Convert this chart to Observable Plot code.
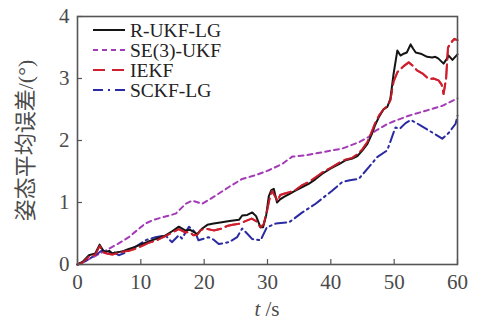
<!DOCTYPE html>
<html>
<head>
<meta charset="utf-8">
<script src="https://cdn.jsdelivr.net/npm/d3@7"></script>
<script src="https://cdn.jsdelivr.net/npm/@observablehq/plot@0.6"></script>
<style>
  body { margin: 0; background: #fff; }
  #chart { position: relative; width: 477px; height: 322px; }
</style>
</head>
<body>
<div id="chart"></div>
<script>
// ---- data ----
const seriesNames = ["R-UKF-LG", "SE(3)-UKF", "IEKF", "SCKF-LG"];
const xTicks = [0, 10, 20, 30, 40, 50, 60];
const yTicks = [0, 1, 2, 3, 4];

const rukfT = [0,0.8,1.8,2.8,3.5,4.2,5.0,5.5,6.5,7.3,8.1,9.0,10.2,11.2,12.3,13.1,13.9,15.0,16.0,17.0,17.8,18.9,19.7,20.5,21.5,22.8,24.0,25.5,26.0,26.8,27.6,28.2,28.9,29.3,29.8,30.2,30.6,31.0,31.5,32.0,32.6,33.5,34.4,35.5,36.5,37.5,38.6,40.0,41.3,42.3,43.4,44.2,45.0,45.8,46.5,47.0,47.6,48.3,48.9,49.4,49.9,50.5,51.0,51.5,52.0,52.6,53.0,53.4,54.2,55.2,56.0,56.5,57.0,57.8,58.2,58.6,59.2,60];
const rukfV = [0,0.04,0.15,0.18,0.32,0.2,0.22,0.18,0.2,0.22,0.25,0.28,0.33,0.37,0.41,0.44,0.47,0.54,0.61,0.55,0.56,0.49,0.58,0.64,0.66,0.68,0.7,0.72,0.79,0.8,0.84,0.78,0.6,0.6,0.8,1.1,1.2,1.22,1.0,1.05,1.09,1.14,1.19,1.25,1.30,1.37,1.46,1.55,1.62,1.68,1.71,1.75,1.84,1.95,2.11,2.25,2.38,2.5,2.54,2.67,3.07,3.45,3.37,3.40,3.42,3.55,3.48,3.42,3.40,3.35,3.34,3.35,3.32,3.24,3.30,3.37,3.30,3.39];

const se3T = [0,2.5,4.9,6.5,8.1,9.5,10.7,12.0,13.4,15.5,17.1,18.1,19.7,21.8,23.9,26.0,28.1,30.2,32.3,33.9,36.0,38.6,41.8,44.4,46.0,47.1,48.8,50.2,52.3,55.0,57.6,60];
const se3V = [0,0.12,0.25,0.34,0.44,0.56,0.66,0.72,0.76,0.82,0.98,1.03,0.98,1.11,1.25,1.38,1.44,1.52,1.62,1.74,1.76,1.81,1.87,1.97,2.06,2.16,2.26,2.32,2.40,2.48,2.56,2.68];

const iekfT = [0,0.8,1.8,2.8,3.5,4.2,5.0,5.5,6.5,7.3,8.1,9.0,10.2,11.2,12.3,13.1,13.9,15.0,16.0,17.0,17.8,18.3,18.9,19.4,20.0,20.7,21.5,22.8,23.6,24.5,25.7,26.5,27.5,28.2,28.9,29.4,29.9,30.3,30.7,31.2,31.6,32.0,32.6,33.6,34.4,35.5,36.5,37.5,38.6,40.0,41.3,42.3,43.4,44.2,45.0,45.8,46.5,47.0,47.6,48.3,48.9,49.4,49.9,50.5,51.5,52.3,53.0,53.6,54.5,55.5,56.2,57.0,57.5,57.8,58.2,58.5,59.0,59.5,60];
const iekfV = [0,0.03,0.13,0.16,0.3,0.19,0.17,0.16,0.19,0.21,0.22,0.25,0.3,0.35,0.38,0.42,0.46,0.52,0.57,0.52,0.52,0.47,0.48,0.55,0.58,0.57,0.55,0.58,0.62,0.64,0.66,0.70,0.74,0.7,0.6,0.65,0.85,1.05,1.19,1.1,1.02,1.12,1.14,1.17,1.2,1.28,1.33,1.4,1.48,1.56,1.64,1.69,1.72,1.78,1.86,1.98,2.15,2.28,2.40,2.5,2.55,2.65,2.95,3.1,3.2,3.26,3.2,3.13,3.08,2.99,3.0,2.97,2.9,2.75,3.0,3.5,3.58,3.64,3.62];

const sckfT = [0,1.2,2.3,3.1,3.9,4.9,5.7,6.5,7.3,8.1,9.4,10.7,12.3,13.9,14.9,16.0,16.5,17.6,18.6,19.1,20.7,21.5,22.3,23.9,25.2,26.0,26.5,27.6,28.9,29.9,31.3,33.4,35.5,37.6,40.2,41.8,43.0,44.4,46.0,47.3,48.9,50.2,50.9,51.8,52.6,53.4,54.2,55.5,56.5,57.6,58.6,59.7,60];
const sckfV = [0,0.05,0.12,0.17,0.23,0.18,0.2,0.15,0.18,0.23,0.3,0.39,0.44,0.47,0.36,0.47,0.42,0.61,0.52,0.39,0.44,0.4,0.33,0.36,0.44,0.58,0.53,0.41,0.39,0.6,0.66,0.68,0.84,0.98,1.19,1.33,1.36,1.38,1.57,1.73,1.84,2.21,2.19,2.28,2.33,2.29,2.24,2.16,2.1,2.03,2.12,2.27,2.40];

// ---- styles ----
const colors = {"R-UKF-LG": "#141414", "SE(3)-UKF": "#a23bb5", "IEKF": "#d01f2e", "SCKF-LG": "#2a2aa2"};
const dashes = {"R-UKF-LG": null, "SE(3)-UKF": "5,4", "IEKF": "14,5", "SCKF-LG": "11,4,2,4"};
const legendDashes = {"R-UKF-LG": null, "SE(3)-UKF": "5,4", "IEKF": "12,7", "SCKF-LG": "10,5,2,5"};

const build = (name, ts, vs) => ts.map((t, i) => ({series: name, t, v: vs[i]}));
const rows = {
  "R-UKF-LG": build("R-UKF-LG", rukfT, rukfV),
  "SE(3)-UKF": build("SE(3)-UKF", se3T, se3V),
  "IEKF": build("IEKF", iekfT, iekfV),
  "SCKF-LG": build("SCKF-LG", sckfT, sckfV)
};

const W = 477, H = 322;
const mL = 77, mR = 20, mT = 16, mB = 58;
const innerW = W - mL - mR, innerH = H - mT - mB;
const serif = "'Liberation Serif', 'Times New Roman', 'Noto Sans CJK SC', serif";

const drawOrder = ["SE(3)-UKF", "SCKF-LG", "IEKF", "R-UKF-LG"];
const lineMarks = drawOrder.map(n => Plot.line(rows[n], {
  x: "t", y: "v", stroke: colors[n], strokeWidth: 2,
  strokeDasharray: dashes[n], strokeLinejoin: "round"
}));
lineMarks.push(Plot.line(rows["IEKF"], {x: "t", y: "v", stroke: colors["IEKF"], strokeWidth: 2, strokeDasharray: dashes["IEKF"], strokeOpacity: 0.85}));

const chart = Plot.plot({
  width: W, height: H,
  marginLeft: mL, marginRight: mR, marginTop: mT, marginBottom: mB,
  style: {fontFamily: serif, fontSize: "21px", color: "#4a4a4a", background: "#fff"},
  x: {domain: [0, 60]},
  y: {domain: [0, 4]},
  marks: [
    ...lineMarks,
    Plot.tickX(xTicks, {x: d => d, stroke: "#555", strokeWidth: 1.2, insetTop: innerH - 5}),
    Plot.tickY(yTicks, {y: d => d, stroke: "#555", strokeWidth: 1.2, insetRight: innerW - 5}),
    Plot.frame({stroke: "#555", strokeWidth: 1.6}),
    Plot.axisX(xTicks, {tickSize: 0, tickPadding: 10, label: null, fontSize: 21, tickFormat: d3.format("d")}),
    Plot.axisY(yTicks, {tickSize: 0, tickPadding: 8, fontSize: 21, tickFormat: d3.format("d"), label: "姿态平均误差/(°)", labelAnchor: "center", labelArrow: "none", labelOffset: 60})
  ]
});
document.getElementById("chart").appendChild(chart);

// enlarge the y-axis title to match the reference
d3.select(chart).selectAll("text").filter(function() { return this.textContent === "姿态平均误差/(°)"; })
  .style("font-size", "22px");

const svg = d3.select(chart);
const xs = chart.scale("x");
const xl = svg.append("text")
  .attr("x", xs.apply(30))
  .attr("y", 316)
  .attr("text-anchor", "middle")
  .attr("fill", "#4a4a4a")
  .style("font-family", serif)
  .style("font-size", "21px");
xl.append("tspan").attr("font-style", "italic").text("t");
xl.append("tspan").text(" /s");

// legend inside the plot, top-left
const lg = svg.append("g").attr("transform", "translate(93,30)");
seriesNames.forEach((n, i) => {
  const g = lg.append("g").attr("transform", `translate(0,${i * 20})`);
  g.append("line").attr("x1", 0).attr("x2", 32).attr("y1", 0).attr("y2", 0)
    .attr("stroke", colors[n]).attr("stroke-width", 2)
    .attr("stroke-dasharray", legendDashes[n]);
  g.append("text").attr("x", 37).attr("y", 0).attr("dy", "0.35em")
    .attr("text-anchor", "start")
    .attr("fill", "#222").style("font-family", serif).style("font-size", "19.5px").text(n);
});
</script>
</body>
</html>
